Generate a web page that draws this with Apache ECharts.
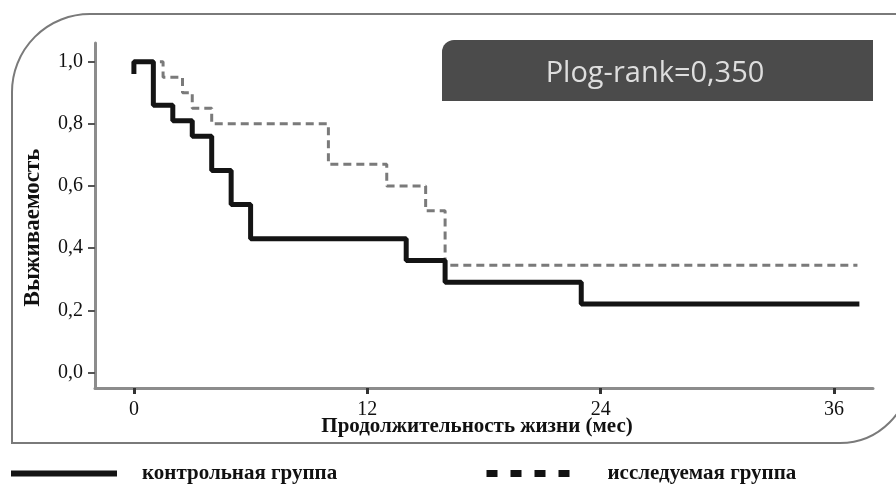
<!DOCTYPE html>
<html>
<head>
<meta charset="utf-8">
<script src="https://cdn.jsdelivr.net/npm/echarts@6/dist/echarts.min.js"></script>
<style>html,body{margin:0;padding:0;background:#fff}#c{width:896px;height:486px}</style>
</head>
<body>
<div id="c"></div>
<script>
// Data
const controlName = 'контрольная группа';
const studyName = 'исследуемая группа';
const controlTimes = [0, 0, 1, 2, 3, 4, 5, 6, 14, 16, 23, 37.3];
const controlSurv  = [0.96, 1.0, 0.86, 0.81, 0.76, 0.65, 0.54, 0.43, 0.36, 0.29, 0.22, 0.22];
const studyTimes = [0, 1.5, 2.5, 3, 4, 10, 13, 15, 16, 37.2];
const studySurv  = [1.0, 0.95, 0.90, 0.85, 0.80, 0.67, 0.60, 0.52, 0.345, 0.345];
const xTicks = [0, 12, 24, 36];
const yTicks = [0, 0.2, 0.4, 0.6, 0.8, 1.0];
const xTitle = 'Продолжительность жизни (мес)';
const yTitle = 'Выживаемость';
const pText = 'Plog-rank=0,350';

const pair = (xs, ys) => xs.map((x, i) => [x, ys[i]]);
const serif = 'Liberation Serif';

const chart = echarts.init(document.getElementById('c'), null, {renderer: 'canvas'});
chart.setOption({
  animation: false,
  backgroundColor: '#ffffff',
  textStyle: {fontFamily: serif},
  grid: {left: 95, right: 23, top: 43, bottom: 98},
  xAxis: {
    type: 'value', min: -2, max: 38,
    name: xTitle, nameLocation: 'middle', nameGap: 28, nameMoveOverlap: false,
    nameTextStyle: {fontFamily: serif, fontWeight: 'bold', fontSize: 21, color: '#111', padding: [0, 14, 0, 0]},
    axisLine: {show: true, onZero: false, lineStyle: {color: '#8c8c8c', width: 3}},
    axisTick: {show: true, customValues: xTicks, length: 6, lineStyle: {color: '#333', width: 3}},
    axisLabel: {customValues: xTicks, fontFamily: serif, fontSize: 20, color: '#111', margin: 12},
    splitLine: {show: false}
  },
  yAxis: {
    type: 'value', min: -0.05, max: 1.06,
    name: yTitle, nameLocation: 'middle', nameGap: 50, nameMoveOverlap: false,
    nameTextStyle: {fontFamily: serif, fontWeight: 'bold', fontSize: 23, color: '#111', padding: [0, 24, 0, 0]},
    axisLine: {show: true, onZero: false, lineStyle: {color: '#8c8c8c', width: 3}},
    axisTick: {show: true, customValues: yTicks, length: 7, lineStyle: {color: '#555', width: 2}},
    axisLabel: {customValues: yTicks, fontFamily: serif, fontSize: 20, color: '#111', margin: 12,
      formatter: v => v.toFixed(1).replace('.', ',')},
    splitLine: {show: false}
  },
  legend: [
    {data: [{name: controlName, itemStyle: {color: 'transparent', borderWidth: 0, opacity: 0}, lineStyle: {width: 6, color: '#141414'}}],
     left: 8, top: 463, padding: 0, itemWidth: 106, itemHeight: 14,
     textStyle: {fontFamily: serif, fontWeight: 'bold', fontSize: 21, color: '#111', padding: [0, 0, 0, 20]},
     selectedMode: false},
    {data: [{name: studyName, itemStyle: {color: 'transparent', borderWidth: 0, opacity: 0}, lineStyle: {width: 7, type: [11, 13], color: '#111'}}],
     left: 483, top: 463, padding: 0, itemWidth: 85, itemHeight: 14,
     textStyle: {fontFamily: serif, fontWeight: 'bold', fontSize: 21, color: '#111', padding: [0, 0, 0, 31]},
     selectedMode: false}
  ],
  series: [
    {name: studyName, type: 'line', step: 'end', data: pair(studyTimes, studySurv), showSymbol: false, symbol: 'none',
     lineStyle: {color: '#7a7a7a', width: 3, type: [8, 5]}, itemStyle: {color: '#7a7a7a'}, z: 2},
    {name: controlName, type: 'line', step: 'end', data: pair(controlTimes, controlSurv), showSymbol: false, symbol: 'none',
     lineStyle: {color: '#141414', width: 5}, itemStyle: {color: '#141414'}, z: 3}
  ],
  graphic: [
    {type: 'rect', shape: {x: 12, y: 14, width: 898, height: 429, r: [78, 0, 70, 0]},
     style: {fill: 'none', stroke: '#7a7a7a', lineWidth: 2}, z: 0, silent: true},
    {type: 'rect', shape: {x: 442, y: 40, width: 431, height: 61, r: [12, 0, 0, 0]},
     style: {fill: '#4b4b4b'}, z: 1, silent: true},
    {type: 'text', x: 655, y: 74, z: 2, silent: true,
     style: {text: pText, fill: '#dedede', font: '29px "Open Sans", sans-serif', align: 'center', verticalAlign: 'middle'}}
  ]
});
</script>
</body>
</html>
